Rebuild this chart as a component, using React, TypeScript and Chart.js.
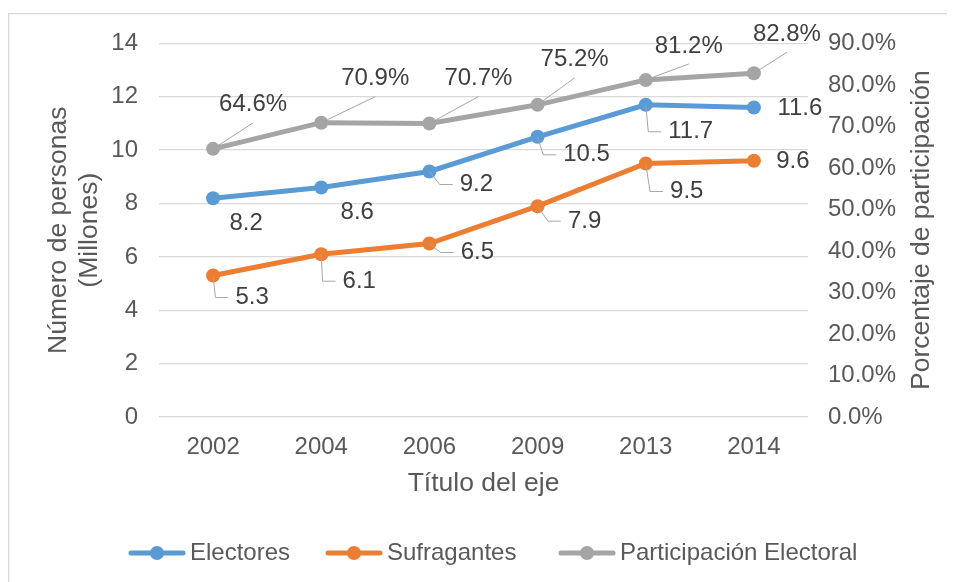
import React, { useEffect, useRef } from 'react';
import { Chart, registerables } from 'chart.js';

Chart.register(...registerables);

// ---- data ----
const years = ['2002', '2004', '2006', '2009', '2013', '2014'];
const electores = [8.2, 8.6, 9.2, 10.5, 11.7, 11.6];
const sufragantes = [5.3, 6.1, 6.5, 7.9, 9.5, 9.6];
const participacion = [64.6, 70.9, 70.7, 75.2, 81.2, 82.8];
const seriesNames = ['Electores', 'Sufragantes', 'Participación Electoral'];
const leftAxisTitle = ['Número de personas', '(Millones)'];
const rightAxisTitle = 'Porcentaje de participación';
const xAxisTitle = 'Título del eje';

// ---- styles ----
const colors = ['#5B9BD5', '#ED7D31', '#A5A5A5'];
const FONT = '"Liberation Sans", Arial, sans-serif';
const TICK_COLOR = '#595959';
const LABEL_COLOR = '#404040';
const GRID_COLOR = '#D9D9D9';
const LEADER_COLOR = '#A6A6A6';

// data-label placement relative to each point: [dx, dy, leader kind]
type Kind = 'none' | 'elbow' | 'line';
const labelPlacement: [number, number, Kind][][] = [
  [[33, 25, 'none'], [36, 25, 'none'], [47, 13, 'elbow'], [49, 18, 'elbow'], [45, 27, 'elbow'], [46, 1, 'none']],
  [[39, 22, 'elbow'], [38, 27, 'elbow'], [48, 9, 'elbow'], [47, 15, 'elbow'], [41, 28, 'elbow'], [39, 1, 'none']],
  [[40, -44, 'line'], [54, -44, 'line'], [49, -45, 'line'], [37, -45, 'line'], [43, -34, 'line'], [33, -39, 'line']],
];
// legend item start x (canvas coords)
const legendX = [121, 318, 551];
const legendY = 545;

const fmt = (di: number, v: number) => (di === 2 ? v.toFixed(1) + '%' : v.toFixed(1));

const framePlugin = {
  id: 'frame',
  beforeDraw(chart: any) {
    const ctx = chart.ctx;
    ctx.save();
    ctx.fillStyle = '#FFFFFF';
    ctx.fillRect(0, 0, chart.width, chart.height);
    ctx.strokeStyle = '#D9D9D9';
    ctx.lineWidth = 1.3;
    ctx.strokeRect(0.65, 5.65, chart.width + 20, chart.height + 20);
    ctx.restore();
  },
};

const calloutPlugin = {
  id: 'callouts',
  afterDatasetsDraw(chart: any) {
    const ctx = chart.ctx;
    ctx.save();
    ctx.font = `24px ${FONT}`;
    ctx.textBaseline = 'middle';
    ctx.textAlign = 'center';
    chart.data.datasets.forEach((ds: any, di: number) => {
      const meta = chart.getDatasetMeta(di);
      meta.data.forEach((pt: any, i: number) => {
        const [dx, dy, kind] = labelPlacement[di][i];
        const cx = pt.x + dx;
        const cy = pt.y + dy;
        const text = fmt(di, ds.data[i]);
        const w = ctx.measureText(text).width;
        ctx.strokeStyle = LEADER_COLOR;
        ctx.lineWidth = 1;
        if (kind === 'line') {
          ctx.beginPath();
          ctx.moveTo(cx, cy + 18);
          ctx.lineTo(pt.x, pt.y);
          ctx.stroke();
        } else if (kind === 'elbow') {
          const ex = cx - w / 2 - 7;
          ctx.beginPath();
          ctx.moveTo(pt.x, pt.y);
          ctx.lineTo(ex - 13, cy);
          ctx.lineTo(ex, cy);
          ctx.stroke();
        }
        ctx.fillStyle = LABEL_COLOR;
        ctx.fillText(text, cx, cy);
      });
    });
    ctx.restore();
  },
};

const extrasPlugin = {
  id: 'extras',
  afterDraw(chart: any) {
    const ctx = chart.ctx;
    const area = chart.chartArea;
    ctx.save();
    // right axis title (reads bottom-to-top)
    ctx.translate(914, (area.top + area.bottom) / 2);
    ctx.rotate(-Math.PI / 2);
    ctx.font = `26.5px ${FONT}`;
    ctx.fillStyle = TICK_COLOR;
    ctx.textAlign = 'center';
    ctx.textBaseline = 'middle';
    ctx.fillText(rightAxisTitle, 0, 0);
    ctx.restore();

    // legend
    ctx.save();
    ctx.font = `24px ${FONT}`;
    ctx.textBaseline = 'middle';
    ctx.textAlign = 'left';
    seriesNames.forEach((name, i) => {
      const x0 = legendX[i];
      ctx.strokeStyle = colors[i];
      ctx.lineWidth = 5;
      ctx.lineCap = 'round';
      ctx.beginPath();
      ctx.moveTo(x0 + 2, legendY);
      ctx.lineTo(x0 + 54, legendY);
      ctx.stroke();
      ctx.fillStyle = colors[i];
      ctx.beginPath();
      ctx.arc(x0 + 28, legendY, 7, 0, Math.PI * 2);
      ctx.fill();
      ctx.fillStyle = TICK_COLOR;
      ctx.fillText(name, x0 + 61, legendY);
    });
    ctx.restore();
  },
};

export default function App() {
  const ref = useRef<HTMLCanvasElement>(null);
  useEffect(() => {
    if (!ref.current) return;
    const mk = (label: string, data: number[], color: string, axis: string) => ({
      label,
      data,
      yAxisID: axis,
      borderColor: color,
      backgroundColor: color,
      pointBackgroundColor: color,
      pointBorderColor: color,
      borderWidth: 5,
      pointRadius: 7,
      pointBorderWidth: 0,
      tension: 0,
      fill: false,
    });
    const tickFont = { family: FONT, size: 24 };
    const titleFont = { family: FONT, size: 26.5, lineHeight: 1.17 };
    const chart = new Chart(ref.current, {
      type: 'line',
      data: {
        labels: years,
        datasets: [
          mk(seriesNames[0], electores, colors[0], 'y'),
          mk(seriesNames[1], sufragantes, colors[1], 'y'),
          mk(seriesNames[2], participacion, colors[2], 'y1'),
        ],
      },
      options: {
        responsive: false,
        animation: false,
        events: [],
        layout: { padding: { top: 34, left: 0, right: 0, bottom: 0 } },
        plugins: { legend: { display: false }, tooltip: { enabled: false }, title: { display: false } },
        scales: {
          x: {
            type: 'category',
            offset: true,
            grid: { display: false, drawTicks: false },
            border: { display: false },
            ticks: { color: TICK_COLOR, font: tickFont, padding: 16, maxRotation: 0 },
            title: {
              display: true,
              text: xAxisTitle,
              color: TICK_COLOR,
              font: titleFont,
              padding: { top: 0, bottom: 83 },
            },
            afterFit: (s: any) => {
              s.height = 165;
            },
          },
          y: {
            position: 'left',
            min: 0,
            max: 14,
            ticks: { stepSize: 2, color: TICK_COLOR, font: tickFont, padding: 21 },
            grid: { color: GRID_COLOR, lineWidth: 1.3, drawTicks: false },
            border: { display: false },
            title: {
              display: true,
              text: leftAxisTitle,
              color: TICK_COLOR,
              font: titleFont,
              padding: { top: 35.5, bottom: 0 },
            },
            afterFit: (s: any) => {
              s.width = 151;
            },
          },
          y1: {
            position: 'right',
            min: 0,
            max: 90,
            ticks: {
              stepSize: 10,
              color: TICK_COLOR,
              font: tickFont,
              padding: 20,
              callback: (v: any) => Number(v).toFixed(1) + '%',
            },
            grid: { display: false, drawOnChartArea: false, drawTicks: false },
            border: { display: false },
            afterFit: (s: any) => {
              s.width = 147;
            },
          },
        },
      } as any,
      plugins: [framePlugin, calloutPlugin, extrasPlugin],
    });
    return () => chart.destroy();
  }, []);
  return <canvas ref={ref} width={947} height={574} style={{ display: 'block' }} />;
}
